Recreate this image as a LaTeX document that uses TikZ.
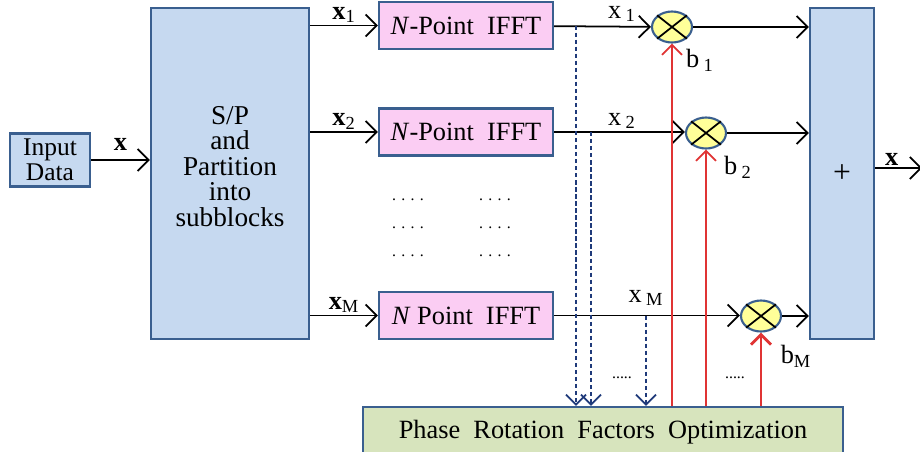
\documentclass[tikz,border=0pt]{standalone}
\usepackage{fontspec}
\setmainfont{Liberation Serif}
\usetikzlibrary{positioning, arrows.meta, shapes.geometric}

\definecolor{boxblue}{HTML}{C6D9F0}
\definecolor{edgeblue}{HTML}{3A5F8F}
\definecolor{fftpink}{HTML}{FBCDF3}
\definecolor{mulyellow}{HTML}{FFFF99}
\definecolor{optgreen}{HTML}{D7E4BD}
\definecolor{tapblue}{HTML}{1F3A7A}
\definecolor{gainred}{HTML}{E03434}

\tikzset{
  block/.style={draw=edgeblue, line width=1.4pt, fill=boxblue,
    align=center, inner sep=0pt},
  fftbox/.style={block, fill=fftpink, minimum width=3.48cm,
    minimum height=0.94cm},
  mult/.style={ellipse, draw=edgeblue, line width=1.2pt,
    fill=mulyellow, minimum width=0.8cm, minimum height=0.62cm,
    inner sep=0pt},
  sig/.style={-{Straight Barb[length=2.2mm]}, line width=1pt},
  tap/.style={-{Straight Barb[length=2mm]}, tapblue, line width=1pt,
    dash pattern=on 2.5pt off 1.5pt},
  gain/.style={-{Straight Barb[length=2mm]}, gainred, line width=1pt},
  lbl/.style={inner sep=1pt},
}

\begin{document}
\begin{tikzpicture}[x=0.02cm, y=-0.02cm,
  every node/.style={font=\fontsize{15}{14.5}\selectfont}]
\useasboundingbox (0,0) rectangle (920,451);

% blocks
\node[block, minimum width=1.6cm, minimum height=1.06cm,
    font=\fontsize{14.5}{14.5}\selectfont] (input)
    at (50,160) {Input\\Data};
\node[block, minimum width=3.16cm, minimum height=6.62cm,
    font=\fontsize{15.5}{14.5}\selectfont] (sp)
    at (230,173.5) {S/P\\and\\Partition\\into\\subblocks\\[-6pt]\mbox{}};
\node[fftbox] (ifft1) at (466,25.5) {\textit{N}-Point\ \ IFFT};
\node[fftbox] (ifft2) at (466,132) {\textit{N}-Point\ \ IFFT};
\node[fftbox] (ifftM) at (466,315.5) {\textit{N}\ Point\ \ IFFT};
\node[block, minimum width=1.28cm, minimum height=6.62cm,
    font=\fontsize{18}{18}\selectfont] (sum) at (842,173.5) {+};
\node[block, fill=optgreen, minimum width=9.6cm, minimum height=1cm]
    (opt) at (603,432) {Phase\ \ Rotation\ \ Factors\ \ Optimization};

% multipliers
\node[mult] (mul1) at (672,27) {};
\node[mult] (mul2) at (706,133) {};
\node[mult] (mulM) at (761,316) {};
\foreach \m in {mul1,mul2,mulM}
  \draw[line width=1pt] (\m.north west) -- (\m.south east)
                        (\m.north east) -- (\m.south west);

% input side
\draw[sig] (input.east) -- node[above, lbl, yshift=4pt]{\textbf{x}}
    (input.east -| sp.west);
\draw[sig] (sp.east |- ifft1) -- node[above, lbl]
    {\textbf{x}\textsubscript{1}} (ifft1);
\draw[sig] (sp.east |- ifft2) -- node[above, lbl]
    {\textbf{x}\textsubscript{2}} (ifft2);
\draw[sig] (sp.east |- ifftM) -- node[above, lbl]
    {\textbf{x}\textsubscript{M}} (ifftM);

% IFFT outputs
\draw[sig] (ifft1) -- (mul1);
\draw[sig] (ifft2.east) -- (ifft2.east -| mul2.west);
\draw[sig] (ifftM.east) -- (ifftM.east -| mulM.west);
\node[lbl] (lx1) at (622,14) {x\,\textsubscript{1}};
\node[lbl] (lx2) at (622,121) {x\,\textsubscript{2}};
\node[lbl] (lxM) at (646,298) {x\,\textsubscript{M}};

% to the adder and out
\draw[sig] (mul1) -- (mul1 -| sum.west);
\draw[sig] (mul2) -- (mul2 -| sum.west);
\draw[sig] (mulM) -- (mulM -| sum.west);
\coordinate (out) at (922,168);
\draw[sig] (sum.east |- out) -- node[above, lbl, pos=.35]{\textbf{x}} (out);

% taps to the optimizer
\coordinate (t1) at (576,25.5);
\coordinate (t2) at (591,132);
\coordinate (tM) at (646,315.5);
\foreach \t in {t1,t2,tM}
  \draw[tap] (\t) -- (\t |- opt.north);

% rotation factors
\draw[gain] (mul1 |- opt.north) -- (mul1);
\draw[gain] (mul2 |- opt.north) -- (mul2);
\draw[gain, line width=1.6pt] (mulM |- opt.north) -- (mulM);
\node[lbl] (lb1) at (700,60) {b\,\textsubscript{1}};
\node[lbl] (lb2) at (738,167) {b\,\textsubscript{2}};
\node[lbl] (lbM) at (796,356) {b\textsubscript{M}};

% dots
\foreach \y in {200,228,256} {
  \node[font=\small] at (408,\y) {. . . .};
  \node[font=\small] at (495,\y) {. . . .};
}
\node[font=\small] (d1) at (622,378) {.....};
\node[font=\small] (d2) at (735,378) {.....};
\end{tikzpicture}
\end{document}
